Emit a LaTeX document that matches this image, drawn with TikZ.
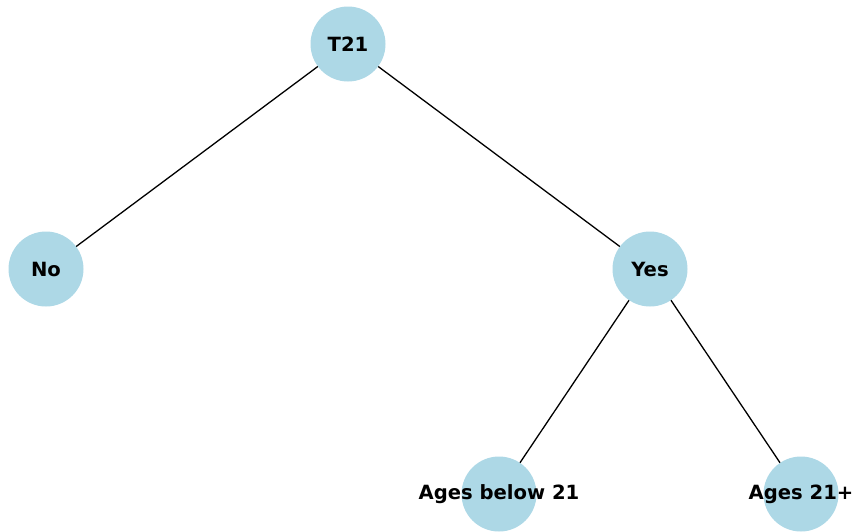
\documentclass[tikz,border=0pt]{standalone}
\usepackage{fontspec}
\setmainfont{DejaVu Sans}
\definecolor{lblue}{HTML}{ADD8E6}
\begin{document}
\begin{tikzpicture}[x=1pt,y=-1pt,
  dot/.style={circle,fill=lblue,minimum size=75pt,inner sep=0pt},
  lab/.style={font=\bfseries\fontsize{19.6}{22}\selectfont,text=black},
  edge/.style={draw=black,line width=1.3pt}]
\useasboundingbox (0,0) rectangle (857,531);
\clip (0,0) rectangle (857,531);
\node[dot] (t) at (348,44) {};
\node[dot] (no) at (46,269) {};
\node[dot] (yes) at (650,269) {};
\node[dot] (a) at (499,494) {};
\node[dot] (b) at (801,494) {};
\draw[edge] (t) -- (no);
\draw[edge] (t) -- (yes);
\draw[edge] (yes) -- (a);
\draw[edge] (yes) -- (b);
\node[lab] at (t) {T21};
\node[lab] at (no) {No};
\node[lab] at (yes) {Yes};
\node[lab] at (a) {Ages below 21};
\node[lab] at (b) {Ages 21+};
\end{tikzpicture}
\end{document}
